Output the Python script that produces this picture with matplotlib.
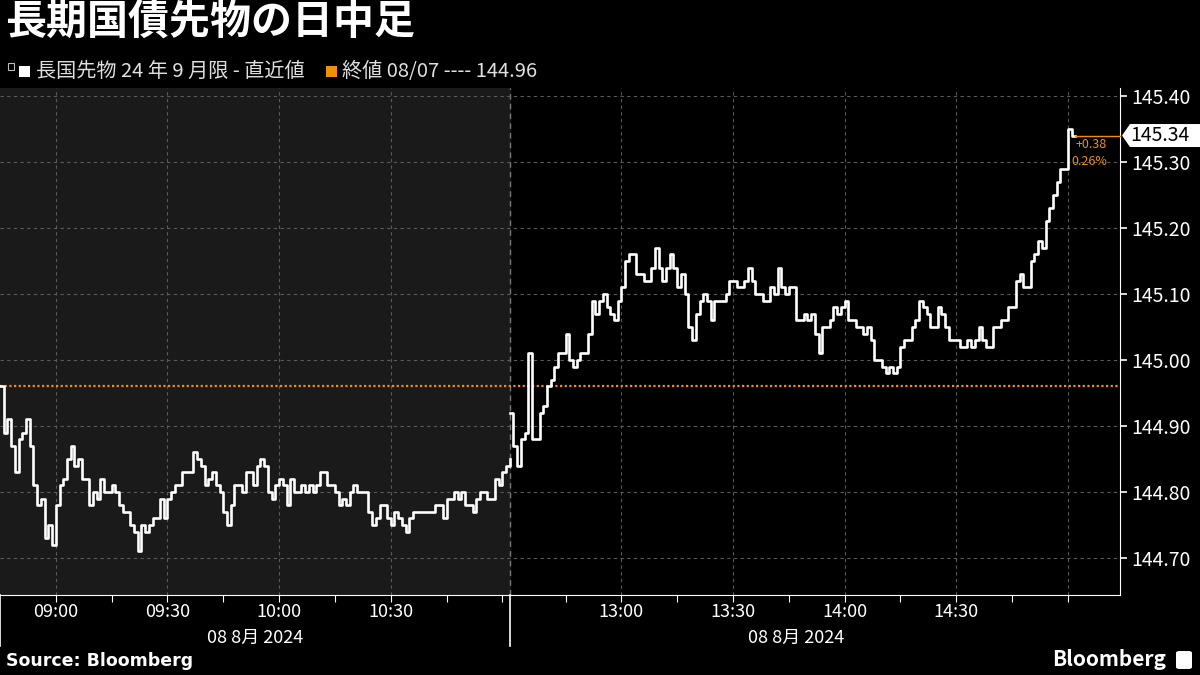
import matplotlib.pyplot as plt
import matplotlib.transforms as mtransforms
from matplotlib.patches import Rectangle, FancyBboxPatch, Polygon
import pandas as pd

plt.rcParams['font.family'] = ['Noto Sans CJK JP', 'DejaVu Sans']

# 1-minute prices, morning session 08:45-11:02
morning_prices = [
    144.96, 144.89, 144.91, 144.87, 144.83, 144.88, 144.89, 144.91, 144.87, 144.81,
    144.78, 144.79, 144.73, 144.75, 144.72, 144.78, 144.81, 144.82, 144.85, 144.87,
    144.84, 144.85, 144.82, 144.82, 144.78, 144.80, 144.79, 144.82, 144.80, 144.80,
    144.81, 144.80, 144.78, 144.77, 144.77, 144.75, 144.74, 144.71, 144.75, 144.74,
    144.75, 144.76, 144.76, 144.79, 144.76, 144.79, 144.80, 144.81, 144.81, 144.83,
    144.83, 144.83, 144.86, 144.85, 144.84, 144.81, 144.82, 144.83, 144.81, 144.80,
    144.77, 144.75, 144.78, 144.81, 144.81, 144.80, 144.83, 144.83, 144.81, 144.84,
    144.85, 144.84, 144.80, 144.79, 144.81, 144.82, 144.81, 144.78, 144.82, 144.80,
    144.80, 144.81, 144.80, 144.81, 144.80, 144.81, 144.83, 144.83, 144.81, 144.81,
    144.80, 144.78, 144.79, 144.78, 144.80, 144.81, 144.80, 144.80, 144.80, 144.77,
    144.75, 144.76, 144.78, 144.78, 144.76, 144.75, 144.77, 144.76, 144.75, 144.74,
    144.76, 144.77, 144.77, 144.77, 144.77, 144.77, 144.77, 144.78, 144.78, 144.76,
    144.79, 144.79, 144.80, 144.79, 144.80, 144.78, 144.78, 144.77, 144.79, 144.80,
    144.80, 144.79, 144.79, 144.82, 144.81, 144.83, 144.84, 144.85,
]
# 1-minute prices, afternoon session 12:30-15:02
afternoon_prices = [
    144.92, 144.87, 144.84, 144.88, 144.89, 145.01, 144.88, 144.88, 144.92, 144.93,
    144.96, 144.97, 144.99, 145.01, 145.01, 145.04, 145.00, 144.99, 145.00, 145.01,
    145.01, 145.04, 145.09, 145.07, 145.09, 145.10, 145.08, 145.07, 145.06, 145.09,
    145.11, 145.15, 145.16, 145.16, 145.13, 145.13, 145.12, 145.12, 145.14, 145.17,
    145.14, 145.12, 145.14, 145.16, 145.14, 145.11, 145.13, 145.10, 145.05, 145.03,
    145.07, 145.09, 145.10, 145.09, 145.06, 145.09, 145.09, 145.09, 145.10, 145.12,
    145.12, 145.11, 145.11, 145.12, 145.14, 145.12, 145.10, 145.10, 145.09, 145.09,
    145.11, 145.10, 145.14, 145.11, 145.10, 145.11, 145.11, 145.06, 145.06, 145.07,
    145.06, 145.07, 145.04, 145.01, 145.05, 145.05, 145.06, 145.08, 145.07, 145.08,
    145.09, 145.06, 145.06, 145.05, 145.05, 145.04, 145.05, 145.03, 145.00, 145.00,
    144.99, 144.98, 144.99, 144.98, 144.99, 145.02, 145.03, 145.03, 145.05, 145.06,
    145.09, 145.08, 145.07, 145.05, 145.05, 145.08, 145.07, 145.05, 145.03, 145.03,
    145.03, 145.02, 145.02, 145.03, 145.02, 145.03, 145.05, 145.03, 145.02, 145.02,
    145.05, 145.05, 145.06, 145.06, 145.08, 145.08, 145.12, 145.13, 145.11, 145.11,
    145.15, 145.16, 145.18, 145.17, 145.21, 145.23, 145.25, 145.27, 145.29, 145.29,
    145.35, 145.34, 145.34,
]
prev_close = 144.96
last_price = 145.34
change = "+0.38"
change_pct = "0.26%"
yticks = [144.70, 144.80, 144.90, 145.00, 145.10, 145.20, 145.30, 145.40]
label_times = ["09:00", "09:30", "10:00", "10:30", "13:00", "13:30", "14:00", "14:30"]
minor_times = ["09:15", "09:45", "10:15", "10:45", "11:00",
               "12:45", "13:15", "13:45", "14:15", "14:45", "15:00"]
date_label = "08 8月 2024"

ORANGE = '#f0900a'


def pos(t):
    # session-compressed minutes: lunch break removed
    h, m = map(int, t.split(':'))
    mins = h * 60 + m
    if mins <= 11 * 60 + 2:
        return mins - (8 * 60 + 45)
    return 137 + mins - (12 * 60 + 30)


am_x = [pos(t.strftime('%H:%M')) for t in
        pd.date_range('2024-08-08 08:45', periods=len(morning_prices), freq='min')]
pm_x = [pos(t.strftime('%H:%M')) for t in
        pd.date_range('2024-08-08 12:30', periods=len(afternoon_prices), freq='min')]
split = pos("11:02")

fig = plt.figure(figsize=(12, 6.75), dpi=100, facecolor='black')
ax = fig.add_axes([0, 1 - 595 / 675, 1120 / 1200, (595 - 88) / 675])
ax.set_facecolor('black')
ax.set_xlim(0, 301)
ax.set_ylim(144.644, 145.412)

ax.axvspan(0, split, color='#1a1a1a', zorder=0)
ax.axvline(split, color='#777777', lw=1, ls=(0, (4, 3)), zorder=1)

for t in label_times + ["15:00"]:
    ax.axvline(pos(t), color='#5a5a5a', lw=0.8, ls=(0, (3, 3)), zorder=1)
for v in yticks:
    ax.axhline(v, color='#5a5a5a', lw=0.8, ls=(0, (3, 3)), zorder=1)
ax.axhline(prev_close, color=ORANGE, lw=1.6, ls=(0, (1, 1.1)), zorder=2)

ax.plot(am_x, morning_prices, color='white', lw=1.9, drawstyle='steps-post', zorder=3)
ax.plot(pm_x, afternoon_prices, color='white', lw=1.9, drawstyle='steps-post', zorder=3)

# last value connector and label
ax.plot([pm_x[-1], 301], [last_price, last_price], color=ORANGE, lw=1, zorder=3, clip_on=False)
ax.annotate(change, (pm_x[-1] + 8.5, last_price), textcoords='offset points', xytext=(0, -6.5),
            ha='right', va='center', color=ORANGE, fontsize=9)
ax.annotate(change_pct, (pm_x[-1] + 8.5, last_price), textcoords='offset points', xytext=(0, -18.5),
            ha='right', va='center', color=ORANGE, fontsize=9)

# arrow-shaped white tag on the right axis, built in pixel space
trans_r = mtransforms.blended_transform_factory(ax.transAxes, ax.transData)
px0, py0 = trans_r.transform((1.0, last_price))
tag_shape = [(2, 0), (10, 11.5), (80, 11.5), (80, -11.5), (10, -11.5)]
fig.patches.append(Polygon([(px0 + dx, py0 + dy) for dx, dy in tag_shape], closed=True,
                           fc='white', ec='none', transform=mtransforms.IdentityTransform(),
                           zorder=5))
fig.texts.append(plt.Text(px0 + 10, py0, f"{last_price:.2f}", color='black', fontsize=14,
                          ha='left', va='center', transform=mtransforms.IdentityTransform(),
                          zorder=6, figure=fig))

# axes styling
for s in ['top', 'left']:
    ax.spines[s].set_visible(False)
ax.spines['right'].set_color('white')
ax.spines['bottom'].set_color('white')
ax.yaxis.tick_right()
ax.set_yticks(yticks)
ax.set_yticklabels([f"{v:.2f}" for v in yticks])
ax.tick_params(axis='y', colors='white', labelsize=14, length=5, width=1.2, pad=3)
ax.set_xticks([pos(t) for t in label_times])
ax.set_xticklabels(label_times)
ax.set_xticks([pos(t) for t in minor_times], minor=True)
ax.tick_params(axis='x', which='both', colors='white', labelsize=13, length=5, width=0.8, pad=1)

trans_b = mtransforms.blended_transform_factory(ax.transData, ax.transAxes)
for xv in [0, split]:
    ax.plot([xv, xv], [0, -0.1], color='white', lw=1.2, transform=trans_b, clip_on=False)
ax.text(68.5, -0.085, date_label, transform=trans_b, ha='center', va='center',
        color='white', fontsize=13)
ax.text(214, -0.085, date_label, transform=trans_b, ha='center', va='center',
        color='white', fontsize=13)

# title and legend row
fig.text(5 / 1200, 1 - 22 / 675, "長期国債先物の日中足", color='white', fontsize=29.5,
         fontweight='bold', ha='left', va='center')
fig.patches.append(Rectangle((8 / 1200, 1 - 70 / 675), 6 / 1200, 7 / 675, transform=fig.transFigure,
                             fill=False, ec='#bbbbbb', lw=0.8))
fig.patches.append(Rectangle((19 / 1200, 1 - 77 / 675), 11 / 1200, 11 / 675, transform=fig.transFigure,
                             fc='white', ec='none'))
fig.text(36 / 1200, 1 - 71 / 675, "長国先物 24 年 9 月限 - 直近値", color='#e0e0e0', fontsize=14.5,
         ha='left', va='center')
fig.patches.append(Rectangle((326 / 1200, 1 - 77 / 675), 11 / 1200, 11 / 675, transform=fig.transFigure,
                             fc=ORANGE, ec='none'))
fig.text(342 / 1200, 1 - 71 / 675, f"終値 08/07 ---- {prev_close:.2f}", color='#e0e0e0', fontsize=14.5,
         ha='left', va='center')

fig.text(6 / 1200, 1 - 661 / 675, "Source: Bloomberg", color='white', fontsize=12.5,
         fontweight='bold', ha='left', va='center', family='DejaVu Sans')
fig.text(1166 / 1200, 1 - 660 / 675, "Bloomberg", color='white', fontsize=15,
         fontweight='bold', ha='right', va='center')
fig.patches.append(FancyBboxPatch((1176 / 1200, 1 - 669 / 675), 16 / 1200, 18 / 675,
                                  boxstyle='round,pad=0,rounding_size=0.003',
                                  transform=fig.transFigure, fc='white', ec='none'))

fig.savefig('out.png', dpi=100, facecolor='black')
